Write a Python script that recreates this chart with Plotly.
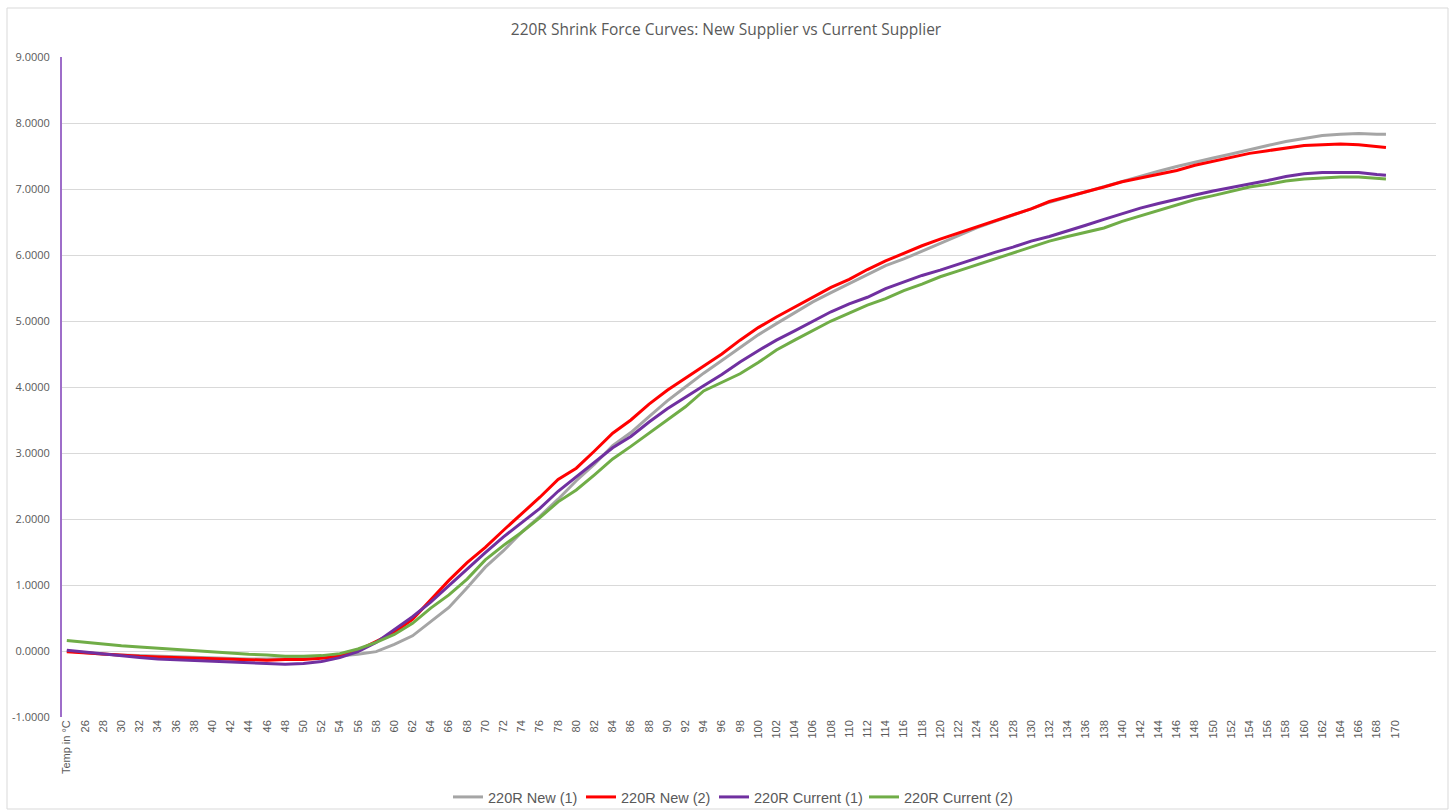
import plotly.graph_objects as go

# Temperatures (°C); the first point sits on the "Temp in °C" header category
temps = [24, 26, 28, 30, 32, 34, 36, 38, 40, 42, 44, 46, 48, 50, 52, 54, 56, 58, 60, 62,
         64, 66, 68, 70, 72, 74, 76, 78, 80, 82, 84, 86, 88, 90, 92, 94, 96, 98, 100, 102,
         104, 106, 108, 110, 112, 114, 116, 118, 120, 122, 124, 126, 128, 130, 132, 134, 136, 138, 140, 142,
         144, 146, 148, 150, 152, 154, 156, 158, 160, 162, 164, 166, 168, 169]

new_1 = [0.00, -0.03, -0.05, -0.06, -0.07, -0.08, -0.09, -0.10, -0.11, -0.11, -0.12, -0.12, -0.12, -0.11, -0.10, -0.08, -0.05, -0.01, 0.10, 0.23,
         0.44, 0.66, 0.96, 1.27, 1.52, 1.80, 2.04, 2.30, 2.58, 2.83, 3.11, 3.31, 3.55, 3.79, 4.00, 4.21, 4.40, 4.60, 4.79, 4.96,
         5.13, 5.29, 5.43, 5.57, 5.71, 5.84, 5.94, 6.06, 6.18, 6.30, 6.41, 6.51, 6.60, 6.70, 6.80, 6.88, 6.96, 7.03, 7.11, 7.19,
         7.27, 7.34, 7.41, 7.47, 7.53, 7.60, 7.66, 7.72, 7.77, 7.81, 7.83, 7.84, 7.83, 7.83]

new_2 = [-0.01, -0.03, -0.05, -0.06, -0.08, -0.09, -0.10, -0.11, -0.12, -0.13, -0.14, -0.14, -0.13, -0.13, -0.11, -0.08, 0.01, 0.15, 0.28, 0.48,
         0.77, 1.07, 1.34, 1.57, 1.83, 2.08, 2.33, 2.60, 2.77, 3.03, 3.30, 3.50, 3.74, 3.95, 4.13, 4.32, 4.50, 4.71, 4.90, 5.06,
         5.21, 5.37, 5.51, 5.63, 5.78, 5.91, 6.03, 6.14, 6.24, 6.33, 6.42, 6.52, 6.61, 6.70, 6.81, 6.88, 6.95, 7.03, 7.11, 7.17,
         7.22, 7.28, 7.36, 7.42, 7.48, 7.54, 7.58, 7.62, 7.66, 7.67, 7.68, 7.67, 7.64, 7.63]

current_1 = [0.01, -0.02, -0.05, -0.08, -0.10, -0.12, -0.13, -0.15, -0.16, -0.17, -0.18, -0.19, -0.20, -0.19, -0.16, -0.10, -0.01, 0.13, 0.33, 0.52,
             0.74, 0.99, 1.25, 1.49, 1.73, 1.94, 2.16, 2.42, 2.64, 2.87, 3.08, 3.25, 3.47, 3.67, 3.85, 4.02, 4.19, 4.38, 4.55, 4.71,
             4.85, 5.00, 5.14, 5.26, 5.36, 5.49, 5.59, 5.69, 5.77, 5.86, 5.96, 6.04, 6.12, 6.21, 6.28, 6.36, 6.45, 6.54, 6.63, 6.71,
             6.78, 6.85, 6.91, 6.97, 7.02, 7.07, 7.13, 7.19, 7.23, 7.25, 7.25, 7.25, 7.22, 7.21]

current_2 = [0.16, 0.13, 0.10, 0.08, 0.06, 0.04, 0.02, 0.00, -0.01, -0.03, -0.05, -0.06, -0.08, -0.08, -0.07, -0.04, 0.03, 0.13, 0.25, 0.42,
             0.65, 0.85, 1.09, 1.38, 1.60, 1.80, 2.02, 2.26, 2.44, 2.67, 2.91, 3.10, 3.30, 3.51, 3.70, 3.94, 4.07, 4.20, 4.37, 4.56,
             4.71, 4.86, 5.00, 5.12, 5.24, 5.34, 5.46, 5.56, 5.67, 5.76, 5.85, 5.93, 6.02, 6.12, 6.21, 6.28, 6.34, 6.41, 6.51, 6.59,
             6.68, 6.75, 6.84, 6.90, 6.97, 7.03, 7.07, 7.12, 7.15, 7.17, 7.18, 7.18, 7.16, 7.15]

series_names = ["220R New (1)", "220R New (2)", "220R Current (1)", "220R Current (2)"]
series_colors = ["#A5A5A5", "#FF0000", "#7030A0", "#70AD47"]

tick_vals = list(range(24, 171, 2))
tick_text = ["Temp in °C"] + [str(t) for t in range(26, 171, 2)]

y_ticks = [-1, 0, 1, 2, 3, 4, 5, 6, 7, 8, 9]

# layout geometry (pixels)
W, H = 1452, 810
L, R, T, B = 62, 16, 57, 93
PW, PH = W - L - R, H - T - B
legend_text_px = [488, 621, 754, 904]   # where each legend label starts
legend_ids = ["legend", "legend2", "legend3", "legend4"]

fig = go.Figure()
for name, color, vals, lid in zip(series_names, series_colors,
                                  [new_1, new_2, current_1, current_2], legend_ids):
    fig.add_trace(go.Scatter(x=temps, y=vals, mode="lines", name=name, legend=lid,
                             line=dict(color=color, width=3)))

legend_font = dict(family="Liberation Sans, Arial, sans-serif", size=14.5, color="#595959")
legend_layout = {}
for lid, px in zip(legend_ids, legend_text_px):
    legend_layout[lid] = dict(orientation="h", x=(px - 40 - L) / PW, xanchor="left",
                              y=(H - B - 797) / PH, yanchor="middle",
                              font=legend_font, bgcolor="rgba(0,0,0,0)",
                              borderwidth=0, itemwidth=30)

fig.update_layout(
    width=W, height=H,
    paper_bgcolor="white", plot_bgcolor="white",
    margin=dict(l=L, r=R, t=T, b=B, autoexpand=False),
    title=dict(text="220R Shrink Force Curves: New Supplier vs Current Supplier",
               x=0.5, xanchor="center", y=1 - 30 / H, yanchor="middle",
               font=dict(family="Open Sans, sans-serif", size=15.5, color="#595959")),
    font=dict(family="Liberation Sans, Arial, sans-serif", color="#595959"),
    showlegend=True,
    xaxis=dict(range=[23.47, 174.5], tickmode="array", tickvals=tick_vals, ticktext=tick_text,
               tickangle=-90, tickfont=dict(size=11, color="#595959"),
               showgrid=False, zeroline=False, showline=False, ticks=""),
    yaxis=dict(range=[-1, 9], tickmode="array", tickvals=y_ticks,
               ticktext=[f"{v:.4f}" for v in y_ticks],
               tickfont=dict(family="Open Sans, sans-serif", size=11, color="#595959"),
               showgrid=True, gridcolor="#D9D9D9", gridwidth=1,
               zeroline=False, showline=True, linecolor="#9E6DC9", linewidth=2,
               ticks="", ticklabelstandoff=8),
    **legend_layout,
)

# outer chart border
fig.add_shape(type="rect", xref="paper", yref="paper",
              x0=(7 - L) / PW, x1=(1448 - L) / PW,
              y0=(H - B - 809) / PH, y1=(H - B - 8) / PH,
              line=dict(color="#D9D9D9", width=1), fillcolor="rgba(0,0,0,0)", layer="below")

fig.write_html("out.html", config={"displayModeBar": False},
               post_script="document.body.style.margin='0px';document.body.style.overflow='hidden';")
